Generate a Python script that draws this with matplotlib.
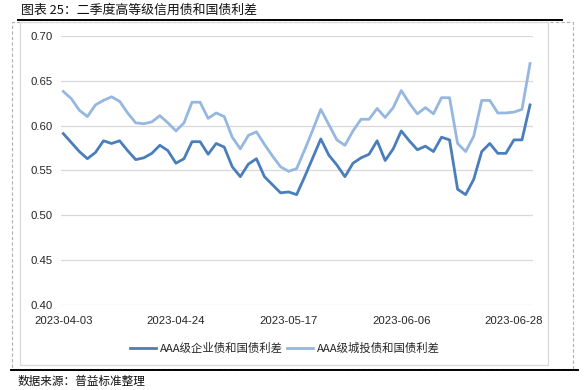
import matplotlib
matplotlib.use("Agg")
import matplotlib.pyplot as plt
from matplotlib.lines import Line2D
from matplotlib.patches import Rectangle

# Spread series, one value per trading day (2023-04-03 .. 2023-06-30)
corp_spread = [
    0.591, 0.581, 0.571, 0.563, 0.570, 0.583, 0.580, 0.583, 0.572, 0.562,
    0.564, 0.569, 0.578, 0.572, 0.558, 0.563, 0.582, 0.582, 0.568, 0.580,
    0.576, 0.554, 0.543, 0.557, 0.563, 0.543, 0.534, 0.525, 0.526, 0.523,
    0.543, 0.564, 0.585, 0.567, 0.556, 0.543, 0.558, 0.564, 0.568, 0.583,
    0.561, 0.574, 0.594, 0.583, 0.573, 0.577, 0.571, 0.587, 0.584, 0.529,
    0.523, 0.540, 0.571, 0.580, 0.569, 0.569, 0.584, 0.584, 0.623,
]
city_spread = [
    0.638, 0.630, 0.617, 0.610, 0.623, 0.628, 0.632, 0.627, 0.614, 0.603,
    0.602, 0.604, 0.611, 0.603, 0.594, 0.603, 0.626, 0.626, 0.608, 0.614,
    0.610, 0.587, 0.574, 0.589, 0.593, 0.579, 0.566, 0.554, 0.549, 0.552,
    0.573, 0.595, 0.618, 0.601, 0.584, 0.578, 0.594, 0.607, 0.607, 0.619,
    0.609, 0.620, 0.639, 0.625, 0.613, 0.620, 0.613, 0.631, 0.631, 0.580,
    0.571, 0.588, 0.628, 0.628, 0.614, 0.614, 0.615, 0.618, 0.669,
]
tick_labels = ["2023-04-03", "2023-04-24", "2023-05-17", "2023-06-06", "2023-06-28"]
label_step = 14
y_ticks = [0.40, 0.45, 0.50, 0.55, 0.60, 0.65, 0.70]

series_names = ["AAA级企业债和国债利差", "AAA级城投债和国债利差"]
title = "图表 25：二季度高等级信用债和国债利差"
source = "数据来源：普益标准整理"

cjk = ["Noto Sans CJK SC", "DejaVu Sans"]
W, H = 586, 390

fig = plt.figure(figsize=(W / 100, H / 100), dpi=100)


def fx(px):
    return px / W


def fy(py):
    return 1 - py / H


# frames around the chart (word-style dashed box + chart area border)
fig.patches.append(Rectangle((fx(11.5), fy(369)), fx(573 - 11.5), (369 - 22) / H,
                             transform=fig.transFigure, fill=False,
                             edgecolor="#b0b0b0", lw=0.8, ls=(0, (3, 2))))
fig.patches.append(Rectangle((fx(20), fy(365)), fx(548 - 20), (365 - 22) / H,
                             transform=fig.transFigure, fill=False,
                             edgecolor="#d9d9d9", lw=0.9))
fig.lines.append(Line2D([fx(18), fx(562)], [fy(19.5), fy(19.5)],
                        transform=fig.transFigure, color="black", lw=1.4))
fig.lines.append(Line2D([fx(11), fx(578)], [fy(370), fy(370)],
                        transform=fig.transFigure, color="black", lw=1.4))

fig.text(fx(21), fy(10), title, family=cjk, fontsize=9.3, va="center", ha="left",
         color="#111111")
fig.text(fx(18), fy(381), source, family=cjk, fontsize=8.4, va="center", ha="left",
         color="#111111")

ax = fig.add_axes([fx(60.7), fy(305), fx(533 - 60.7), (305 - 35.8) / H])
x = list(range(len(corp_spread)))
ax.plot(x, corp_spread, color="#4a7ebb", lw=2.0, label=series_names[0],
        solid_joinstyle="round")
ax.plot(x, city_spread, color="#95b7e0", lw=2.0, label=series_names[1],
        solid_joinstyle="round")

ax.set_xlim(-0.32, len(x) - 1 + 0.37)
ax.set_ylim(0.40, 0.70)
ax.set_yticks(y_ticks)
ax.set_yticklabels([f"{v:.2f}" for v in y_ticks])
ax.set_xticks([i * label_step for i in range(len(tick_labels))])
ax.set_xticklabels(tick_labels)
for lbl in ax.get_xticklabels() + ax.get_yticklabels():
    lbl.set_family("Liberation Sans")
    lbl.set_fontsize(8.2)
    lbl.set_color("#262626")
ax.tick_params(axis="both", length=0)
ax.tick_params(axis="y", pad=6)
ax.tick_params(axis="x", pad=8)
ax.yaxis.grid(True, color="#d9d9d9", lw=0.9)
ax.set_axisbelow(True)
for s in ax.spines.values():
    s.set_visible(False)

fig.legend(loc="center", bbox_to_anchor=(fx(285), fy(348)), ncol=2, frameon=False,
           prop={"family": cjk, "size": 8.2}, handlelength=2.3, handletextpad=0.3,
           columnspacing=0.4, labelcolor="#262626")

fig.savefig("out.png", dpi=100)
